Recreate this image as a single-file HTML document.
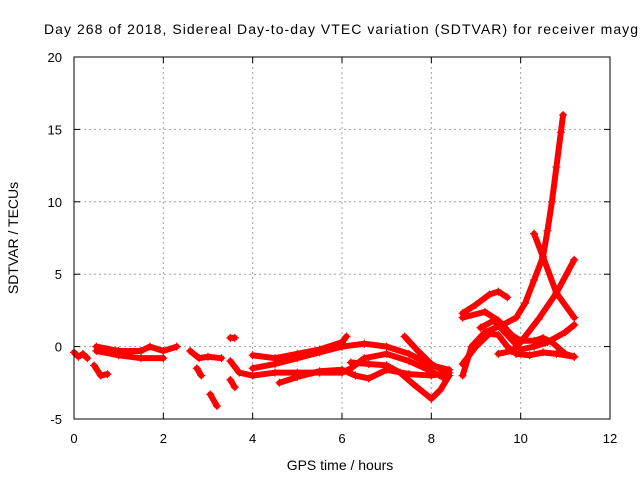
<!DOCTYPE html>
<html><head><meta charset="utf-8"><style>body{margin:0;background:#fff}svg{display:block;font-family:"Liberation Sans",sans-serif}</style></head>
<body>
<svg id="c" width="640" height="480" xmlns="http://www.w3.org/2000/svg">
<text x="44" y="34" font-size="14" textLength="594" lengthAdjust="spacing">Day 268 of 2018, Sidereal Day-to-day VTEC variation (SDTVAR) for receiver mayg</text>
<text x="340" y="470" font-size="14" text-anchor="middle">GPS time / hours</text>
<text transform="translate(18,238) rotate(-90)" font-size="14" text-anchor="middle">SDTVAR / TECUs</text>
<g id="grid"></g><g id="data"></g><g id="axes"></g>
</svg>
<script>
const xTicks=[0,2,4,6,8,10,12];
const yTicks=[-5,0,5,10,15,20];
const t1=[[0,-0.4],[0.1,-0.7],[0.2,-0.5],[0.3,-0.8]];
const t2=[[0.5,0],[1,-0.3],[1.5,-0.3],[1.7,0],[2,-0.3],[2.3,0]];
const t3=[[0.5,-0.3],[1,-0.6],[1.5,-0.8],[2,-0.8]];
const t4=[[0.45,-1.3],[0.6,-2],[0.75,-1.9]];
const t5=[[2.6,-0.3],[2.8,-0.8],[3.0,-0.7],[3.3,-0.8]];
const t6=[[2.75,-1.5],[2.85,-2]];
const t7=[[3.05,-3.3],[3.2,-4.1]];
const t8=[[3.5,0.6],[3.6,0.6]];
const t9=[[3.5,-1],[3.7,-1.8],[4,-2]];
const t10=[[3.5,-2.3],[3.6,-2.8]];
const tA=[[4,-0.6],[4.5,-0.8],[5,-0.5],[5.5,-0.2],[6,0.3],[6.1,0.7]];
const tB=[[4,-1.5],[4.5,-1.2],[5,-0.8],[5.5,-0.4],[6,0],[6.5,0.2],[7,0],[7.5,-0.5],[8,-1.3],[8.4,-1.6]];
const tC=[[4,-2],[4.5,-1.8],[5,-1.8],[5.5,-1.8],[6,-1.8],[6.2,-1.5],[6.5,-0.8],[7,-0.5],[7.5,-1],[8,-1.7],[8.3,-2.2]];
const tD=[[4.6,-2.5],[5,-2.1],[5.5,-1.7],[6,-1.6],[6.3,-2],[6.6,-2.2],[7,-1.6],[7.5,-1.9],[8,-2],[8.4,-1.8]];
const tE=[[6.2,-1.1],[6.6,-1.2],[7,-1.3],[7.3,-1.8],[7.6,-2.6],[8,-3.6],[8.2,-3],[8.4,-2]];
const tF=[[7.4,0.7],[7.7,-0.3],[8,-1.2],[8.3,-1.7]];
const tG=[[8.7,-2],[8.9,0],[9.2,1],[9.6,1.5],[9.9,2],[10.1,3],[10.3,4.6],[10.5,6.2],[10.6,8],[10.7,10],[10.8,12.4],[10.9,14.8],[10.95,16]];
const tH=[[10.3,7.8],[10.5,6.2],[10.8,3.7],[11.2,2]];
const tI=[[9.5,-0.5],[9.8,-0.3],[10,0.3],[10.4,1.9],[10.8,3.7],[11.2,6]];
const tJ=[[8.7,2.3],[9.0,2.9],[9.3,3.6],[9.5,3.8],[9.7,3.4]];
const tK=[[8.7,2],[9.2,2.4],[9.5,1.8],[9.8,0.8],[10,0.4],[10.3,0.4],[10.5,0.6],[10.7,0.3],[11,-0.5],[11.2,-0.7]];
const tL=[[8.7,-1.2],[9,0],[9.3,0.9],[9.5,0.8],[9.7,0],[9.9,-0.5],[10.2,-0.6],[10.5,-0.4],[10.8,-0.5],[11.2,-0.7]];
const tM=[[9.1,1.3],[9.4,1.8],[9.7,0.8],[10,-0.2],[10.3,0],[10.6,0.3],[11,1],[11.2,1.5]];
const series=[t1,t2,t3,t4,t5,t6,t7,t8,t9,t10,tA,tB,tC,tD,tE,tF,tG,tH,tI,tJ,tK,tL,tM];
const L=74,R=610,T=57,B=419;
const xs=v=>L+(v-0)/12*(R-L);
const ys=v=>B-(v+5)/25*(B-T);
const NS="http://www.w3.org/2000/svg";
function mk(tag,attrs,parent){const e=document.createElementNS(NS,tag);for(const k in attrs)e.setAttribute(k,attrs[k]);parent.appendChild(e);return e;}
const grid=document.getElementById('grid'),data=document.getElementById('data'),axes=document.getElementById('axes');
xTicks.forEach(v=>{
 if(v>0&&v<12){const g=mk('line',{x1:xs(v),x2:xs(v),y1:T,y2:B,stroke:'#a0a0a0','stroke-dasharray':'2,3'},grid);
 
 }
 const t=mk('line',{x1:xs(v),x2:xs(v),y1:B,y2:B-6,stroke:'#000'},axes);
 
 
 mk('line',{x1:xs(v),x2:xs(v),y1:T,y2:T+6,stroke:'#000'},axes);
 const l=mk('text',{x:xs(v),y:B+24,'font-size':13,'text-anchor':'middle'},axes);l.textContent=v;
 
 
});
yTicks.forEach(v=>{
 if(v>-5&&v<20){const g=mk('line',{x1:L,x2:R,y1:ys(v),y2:ys(v),stroke:'#a0a0a0','stroke-dasharray':'2,3'},grid);
 
 }
 const t=mk('line',{x1:L,x2:L+6,y1:ys(v),y2:ys(v),stroke:'#000'},axes);
 
 
 mk('line',{x1:R,x2:R-6,y1:ys(v),y2:ys(v),stroke:'#000'},axes);
 const l=mk('text',{x:L-12,y:ys(v)+5,'font-size':13,'text-anchor':'end'},axes);l.textContent=v;
 
 
});
const fr=mk('rect',{x:L,y:T,width:R-L,height:B-T,fill:'none',stroke:'#000'},axes);


series.forEach(s=>{
 const pts=s.map(p=>xs(p[0])+','+ys(p[1])).join(' ');
 const pl=mk('polyline',{points:pts,fill:'none',stroke:'#f00','stroke-width':6,'stroke-linejoin':'round','stroke-linecap':'round'},data);
 
 
 s.forEach(p=>{const x=xs(p[0]),y=ys(p[1]);
  const m=mk('path',{d:`M${x-4},${y}H${x+4}M${x},${y-4}V${y+4}`,stroke:'#f00','stroke-width':1.2},data);
  
  
 });
});
</script>
</body></html>
